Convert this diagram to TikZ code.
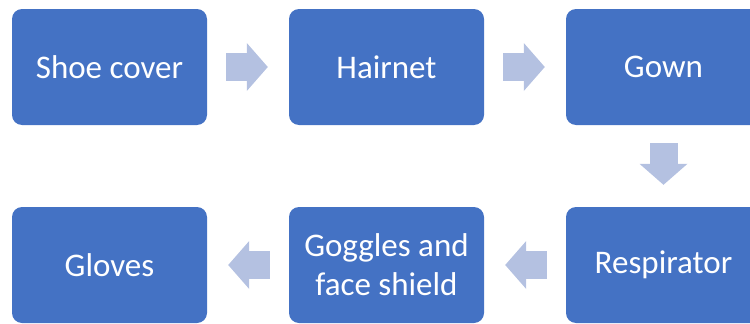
\documentclass[tikz,border=0pt]{standalone}
\usepackage{fontspec}
\setmainfont{Carlito}
\usepackage{tikz}
\usepackage{xcolor}
\usetikzlibrary{arrows.meta}
\definecolor{boxblue}{HTML}{4472C4}
\definecolor{arrowblue}{HTML}{B4C1E1}

\begin{document}
\begin{tikzpicture}[x=1pt,y=-1pt]
			\useasboundingbox (0,0) rectangle (750,324);
			\clip (0,0) rectangle (750,324);
			\tikzset{stepbox/.style={rectangle,rounded corners=10pt,fill=boxblue,text=white,minimum width=195pt,minimum height=116pt,inner sep=0pt,align=center,font=\fontsize{33}{39}\selectfont},
				flow/.style={draw=arrowblue,line width=28pt,-{Triangle[width=48pt,length=21pt,line width=0pt]},shorten <=19pt,shorten >=21pt}}
			\node[stepbox] (shoe) at (109.5,67) {Shoe cover};
			\node[stepbox] (hair) at (386.5,67) {Hairnet};
			\node[stepbox] (gown) at (663.5,67) {Gown};%cut at the edge
			\node[stepbox] (resp) at (663.5,265) {Respirator};
			\node[stepbox] (goggles) at (386.5,265) {Goggles and\\face shield};
			\node[stepbox] (gloves) at (109.5,265) {Gloves};
			\draw[flow] (shoe) -- (hair);
			\draw[flow] (hair) -- (gown);
			\draw[flow,shorten <=18pt,shorten >=22pt] (gown) -- (resp);
			\draw[flow] (resp) -- (goggles);
			\draw[flow] (goggles) -- (gloves);
		\end{tikzpicture}
\end{document}
